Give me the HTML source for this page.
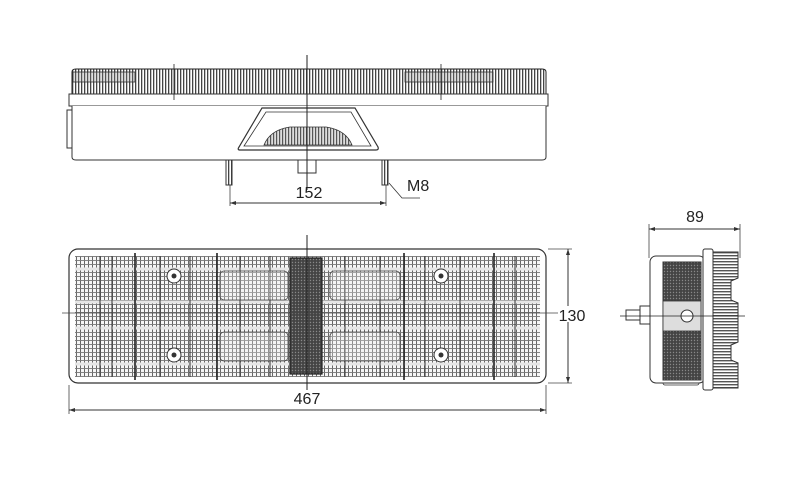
<!DOCTYPE html>
<html><head><meta charset="utf-8"><style>html,body{margin:0;padding:0;background:#fff}svg{display:block}</style></head>
<body>
<svg width="800" height="501" viewBox="0 0 800 501" xmlns="http://www.w3.org/2000/svg" font-family="Liberation Sans, sans-serif">
<defs>
<pattern id="ribs" width="3" height="10" patternUnits="userSpaceOnUse"><rect width="3" height="10" fill="#fff"/><rect width="1.3" height="10" fill="#444"/></pattern>
<pattern id="ribs2" width="3" height="10" patternUnits="userSpaceOnUse"><rect width="3" height="10" fill="#ddd"/><rect width="1.2" height="10" fill="#555"/></pattern>
<pattern id="grid" width="4" height="4" patternUnits="userSpaceOnUse"><rect width="4" height="4" fill="#f6f6f6"/><rect width="1" height="4" fill="#666"/><rect width="4" height="0.9" fill="#777"/></pattern>
<pattern id="refl" width="3" height="3" patternUnits="userSpaceOnUse"><rect width="3" height="3" fill="#444"/><circle cx="1.5" cy="1.5" r="0.7" fill="#888"/></pattern>
<pattern id="hribs" width="10" height="3" patternUnits="userSpaceOnUse"><rect width="10" height="3" fill="#fff"/><rect width="10" height="1.4" fill="#555"/></pattern>
</defs>

<!-- TOP VIEW -->
<path d="M72 94 L72 72 Q72 69 76 69 L542 69 Q546 69 546 72 L546 94 Z" fill="url(#ribs)" stroke="#222" stroke-width="1"/>
<rect x="73" y="72" width="62" height="10" fill="url(#ribs2)" stroke="#333" stroke-width="0.8"/>
<rect x="405" y="72" width="88" height="10" fill="url(#ribs2)" stroke="#333" stroke-width="0.8"/>
<rect x="69" y="94" width="479" height="12" fill="#fff" stroke="#333" stroke-width="1"/>
<path d="M72 106 L72 157 Q72 160 76 160 L542 160 Q546 160 546 157 L546 106" fill="#fff" stroke="#333" stroke-width="1"/>
<rect x="67" y="110" width="5" height="38" fill="#fff" stroke="#333" stroke-width="1"/>
<path d="M262 108 L355 108 L378 147 Q379 150 376 150 L240 150 Q237 150 239 147 Z" fill="#fff" stroke="#333" stroke-width="1.2"/>
<path d="M266 112 L351 112 L371 146 L244 146 Z" fill="none" stroke="#333" stroke-width="0.8"/>
<path d="M264 145 Q270 130 290 127 L326 127 Q346 130 352 145 Z" fill="url(#ribs2)" stroke="#333" stroke-width="0.8"/>
<rect x="298" y="160" width="18" height="13" fill="#fff" stroke="#333" stroke-width="1"/>
<rect x="226" y="160" width="6" height="25" fill="url(#ribs)" stroke="#333" stroke-width="1"/>
<rect x="382" y="160" width="6" height="25" fill="url(#ribs)" stroke="#333" stroke-width="1"/>
<line x1="307" y1="55" x2="307" y2="190" stroke="#222" stroke-width="1"/>
<line x1="174" y1="64" x2="174" y2="100" stroke="#222" stroke-width="0.8"/>
<line x1="441" y1="64" x2="441" y2="100" stroke="#222" stroke-width="0.8"/>
<line x1="230" y1="185" x2="230" y2="206" stroke="#444" stroke-width="0.8"/>
<line x1="386" y1="185" x2="386" y2="206" stroke="#444" stroke-width="0.8"/>
<line x1="230" y1="203" x2="386" y2="203" stroke="#333" stroke-width="1"/>
<path d="M230 203 l6 -2 v4 z M386 203 l-6 -2 v4 z" fill="#333"/>
<text x="309" y="198" font-size="16" text-anchor="middle" fill="#222">152</text>
<path d="M389 183 L402 198 L420 198" fill="none" stroke="#333" stroke-width="0.8"/>
<text x="407" y="191" font-size="16" fill="#222">M8</text>

<!-- FRONT VIEW -->
<rect x="69" y="249" width="477" height="134" rx="9" fill="#fff" stroke="#333" stroke-width="1.2"/>
<rect x="75" y="256" width="465" height="121" fill="url(#grid)"/>
<g stroke="#e6e6e6" stroke-width="3">
<line x1="75" y1="269" x2="540" y2="269"/><line x1="75" y1="302" x2="540" y2="302"/>
<line x1="75" y1="328" x2="540" y2="328"/><line x1="75" y1="364" x2="540" y2="364"/>
</g>
<g stroke="#333" stroke-width="1">
<line x1="100" y1="256" x2="100" y2="377"/><line x1="112" y1="256" x2="112" y2="377"/>
<line x1="160" y1="256" x2="160" y2="377"/><line x1="190" y1="256" x2="190" y2="377"/>
<line x1="240" y1="256" x2="240" y2="377"/><line x1="270" y1="256" x2="270" y2="377"/>
<line x1="345" y1="256" x2="345" y2="377"/><line x1="380" y1="256" x2="380" y2="377"/>
<line x1="425" y1="256" x2="425" y2="377"/><line x1="460" y1="256" x2="460" y2="377"/>
<line x1="515" y1="256" x2="515" y2="377"/>
</g>
<g stroke="#222" stroke-width="1.6">
<line x1="135" y1="253" x2="135" y2="380"/><line x1="217" y1="253" x2="217" y2="380"/>
<line x1="404" y1="253" x2="404" y2="380"/><line x1="494" y1="253" x2="494" y2="380"/>
</g>
<rect x="220" y="271" width="68" height="29" rx="4" fill="#eee" fill-opacity="0.3" stroke="#444" stroke-width="0.8"/>
<rect x="220" y="332" width="68" height="29" rx="4" fill="#eee" fill-opacity="0.3" stroke="#444" stroke-width="0.8"/>
<rect x="330" y="271" width="70" height="29" rx="4" fill="#eee" fill-opacity="0.3" stroke="#444" stroke-width="0.8"/>
<rect x="330" y="332" width="70" height="29" rx="4" fill="#eee" fill-opacity="0.3" stroke="#444" stroke-width="0.8"/>
<rect x="290" y="258" width="32" height="116" fill="url(#refl)" stroke="#222" stroke-width="1.2"/>
<g fill="#fff" stroke="#333" stroke-width="1">
<circle cx="174" cy="276" r="7"/><circle cx="174" cy="355" r="7"/>
<circle cx="441" cy="276" r="7"/><circle cx="441" cy="355" r="7"/>
</g>
<g fill="#333"><circle cx="174" cy="276" r="2.5"/><circle cx="174" cy="355" r="2.5"/><circle cx="441" cy="276" r="2.5"/><circle cx="441" cy="355" r="2.5"/></g>
<line x1="62" y1="313" x2="558" y2="313" stroke="#444" stroke-width="0.8"/>
<line x1="307" y1="235" x2="307" y2="390" stroke="#222" stroke-width="1"/>
<line x1="69" y1="385" x2="69" y2="414" stroke="#444" stroke-width="0.8"/>
<line x1="546" y1="385" x2="546" y2="414" stroke="#444" stroke-width="0.8"/>
<line x1="69" y1="410" x2="546" y2="410" stroke="#333" stroke-width="1"/>
<path d="M69 410 l6 -2 v4 z M546 410 l-6 -2 v4 z" fill="#333"/>
<text x="307" y="404" font-size="16" text-anchor="middle" fill="#222">467</text>
<line x1="548" y1="249" x2="572" y2="249" stroke="#444" stroke-width="0.8"/>
<line x1="548" y1="383" x2="572" y2="383" stroke="#444" stroke-width="0.8"/>
<line x1="568" y1="249" x2="568" y2="383" stroke="#333" stroke-width="1"/>
<path d="M568 249 l-2 6 h4 z M568 383 l-2 -6 h4 z" fill="#333"/>
<rect x="558" y="306" width="32" height="16" fill="#fff"/>
<text x="572" y="321" font-size="16" text-anchor="middle" fill="#222">130</text>

<!-- SIDE VIEW -->
<line x1="649" y1="224" x2="649" y2="258" stroke="#444" stroke-width="0.8"/>
<line x1="740" y1="224" x2="740" y2="258" stroke="#444" stroke-width="0.8"/>
<line x1="649" y1="229" x2="740" y2="229" stroke="#333" stroke-width="1"/>
<path d="M649 229 l6 -2 v4 z M740 229 l-6 -2 v4 z" fill="#333"/>
<text x="695" y="222" font-size="16" text-anchor="middle" fill="#222">89</text>
<rect x="663" y="377" width="36" height="8" rx="2" fill="#fff" stroke="#333" stroke-width="0.8"/>
<rect x="650" y="256" width="55" height="127" rx="6" fill="#fff" stroke="#333" stroke-width="1"/>
<rect x="663" y="262" width="38" height="118" fill="url(#refl)" stroke="#333" stroke-width="1"/>
<rect x="663" y="301" width="38" height="30" fill="#ddd" stroke="#333" stroke-width="0.8"/>
<circle cx="687" cy="316" r="6" fill="#fff" stroke="#333"/>
<path d="M713 252 L738 252 L738 278 L731 281 L731 300 L738 303 L738 342 L731 345 L731 360 L738 363 L738 388 L713 388 Z" fill="url(#hribs)" stroke="#333" stroke-width="1"/>
<rect x="703" y="249" width="10" height="141" rx="2" fill="#fff" stroke="#333" stroke-width="1"/>
<rect x="640" y="306" width="10" height="18" fill="#fff" stroke="#333" stroke-width="1"/>
<rect x="626" y="310" width="14" height="10" fill="#fff" stroke="#333" stroke-width="1"/>
<line x1="620" y1="316" x2="745" y2="316" stroke="#222" stroke-width="0.8"/>
</svg>
</body></html>
